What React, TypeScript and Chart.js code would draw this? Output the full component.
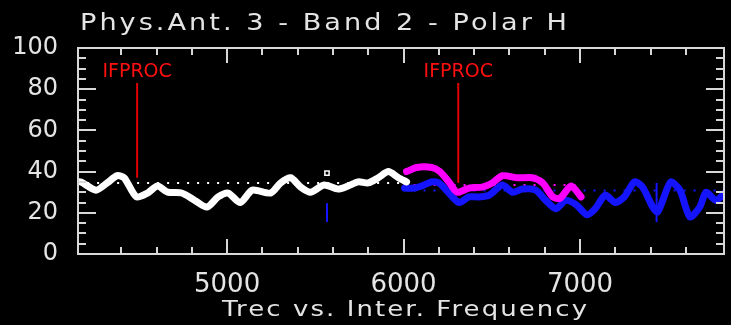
import React, { useEffect, useRef } from 'react';
import { Chart, registerables } from 'chart.js';

Chart.register(...registerables);

// ---- data ----
const whiteFreq = [4150, 4171, 4257, 4320, 4377, 4417, 4486, 4549, 4606, 4663, 4743, 4817, 4886, 4949, 5006, 5074, 5143, 5246, 5303, 5360, 5417, 5474, 5549, 5629, 5686, 5743, 5800, 5857, 5914, 5971, 6017];
const whiteTrec = [35, 35, 31, 34.5, 38, 37, 27.7, 29.6, 33, 30, 29.6, 26, 22.8, 27.7, 29.6, 25, 31, 29.6, 34.5, 37, 32.5, 30, 33.5, 31.5, 33, 35, 34.5, 37, 40, 37, 35];

const magentaFreq = [6017, 6074, 6160, 6206, 6257, 6303, 6371, 6446, 6503, 6560, 6646, 6731, 6789, 6846, 6886, 6950, 7006];
const magentaTrec = [40, 42, 42, 40, 35, 30, 32, 32.5, 34.5, 38, 37, 37, 34.5, 27.7, 27, 33, 27.7];

const blueFreq = [6006, 6063, 6103, 6160, 6200, 6257, 6314, 6371, 6429, 6486, 6560, 6617, 6674, 6749, 6806, 6863, 6920, 6977, 7040, 7086, 7143, 7200, 7251, 7309, 7354, 7411, 7440, 7469, 7514, 7566, 7623, 7680, 7714, 7771, 7820];
const blueTrec = [32, 32, 33, 35, 34.5, 29.6, 25, 27.7, 27.7, 28.6, 33.5, 30, 31.5, 31, 26, 22, 26, 24, 19, 22, 28.6, 25, 27.7, 35, 32.5, 23, 20.4, 26, 35, 31, 18, 23, 30, 26, 29.6];

const whiteMeanRange = [4150, 6030];
const whiteMean = 34.5;
const magentaMeanRange = [6000, 7000];
const magentaMean = 33.5;
const blueMeanRange = [6000, 7820];
const blueMean = 30.8;

const markerFreq = [4490, 6310];
const markerLabels = ['IFPROC', 'IFPROC'];
const markerLow = [37, 34.5];
const markerHigh = 83;
const markerLabelLevel = 86;

const blueTickFreq = [5566, 7434];
const blueTickLow = [15.5, 15.5];
const blueTickHigh = [24.7, 34.5];

const squareFreq = [5566];
const squareTrec = [39.3];

const xMin = 4155;
const xMax = 7816;
const xMinorStep = 200;
const xMajorStep = 1000;
const yMin = 0;
const yMax = 100;
const yMinorStep = 5;
const yMajorStep = 20;

const titleText = 'Phys.Ant. 3 - Band 2 - Polar H';
const xAxisTitle = 'Trec vs. Inter. Frequency';

// ---- helpers ----
const pts = (xs: number[], ys: number[]) => xs.map((x, i) => ({ x, y: ys[i] }));
const FONT = '"DejaVu Sans", sans-serif';
const FG = '#e4e4e4';

function drawWide(ctx: CanvasRenderingContext2D, text: string, x: number, y: number, size: number, width: number) {
  ctx.save();
  ctx.font = `${size}px ${FONT}`;
  ctx.fillStyle = FG;
  ctx.textAlign = 'left';
  ctx.textBaseline = 'alphabetic';
  (ctx as any).letterSpacing = '0px';
  const w = ctx.measureText(text).width;
  const sx = Math.min(width / w, 1.18);
  const extra = (width / sx - w) / Math.max(1, text.length - 1);
  (ctx as any).letterSpacing = `${extra}px`;
  ctx.translate(x, y);
  ctx.scale(sx, 1);
  ctx.fillText(text, 0, 0);
  ctx.restore();
}

const framePlugin = {
  id: 'idlFrame',
  beforeDraw(chart: any) {
    const { ctx, width, height } = chart;
    ctx.save();
    ctx.fillStyle = '#000';
    ctx.fillRect(0, 0, width, height);
    ctx.restore();
  },
  afterDraw(chart: any) {
    const { ctx, chartArea } = chart;
    const xs = chart.scales.x;
    const ys = chart.scales.y;
    const { left, right, top, bottom } = chartArea;
    ctx.save();
    ctx.strokeStyle = '#d8d8d8';
    ctx.lineWidth = 2;
    ctx.strokeRect(left, top, right - left, bottom - top);
    ctx.beginPath();
    xs.ticks.forEach((t: any) => {
      const v = t.value;
      if (Math.abs(v % xMinorStep) > 1e-6) return;
      const px = Math.round(xs.getPixelForValue(v));
      const len = Math.abs(v % xMajorStep) < 1e-6 ? 15 : 7;
      ctx.moveTo(px, bottom);
      ctx.lineTo(px, bottom - len);
      ctx.moveTo(px, top);
      ctx.lineTo(px, top + len);
    });
    ys.ticks.forEach((t: any) => {
      const v = t.value;
      if (Math.abs(v % yMinorStep) > 1e-6) return;
      const py = Math.round(ys.getPixelForValue(v));
      const len = Math.abs(v % yMajorStep) < 1e-6 ? 18 : 8;
      ctx.moveTo(left, py);
      ctx.lineTo(left + len, py);
      ctx.moveTo(right, py);
      ctx.lineTo(right - len, py);
    });
    ctx.stroke();
    ctx.restore();

    // marker labels
    ctx.save();
    ctx.font = `19px ${FONT}`;
    ctx.fillStyle = '#ff1010';
    ctx.textAlign = 'center';
    ctx.textBaseline = 'alphabetic';
    markerFreq.forEach((f, i) => {
      ctx.fillText(markerLabels[i], xs.getPixelForValue(f), ys.getPixelForValue(markerLabelLevel));
    });
    ctx.restore();

    drawWide(ctx, titleText, 80, 30, 23, 487);
    drawWide(ctx, xAxisTitle, 222, 316, 22, 365);
  },
};

export default function App() {
  const ref = useRef<HTMLCanvasElement | null>(null);

  useEffect(() => {
    if (!ref.current) return;
    const curve = (data: any[], color: string, order: number) => ({
      data,
      borderColor: color,
      backgroundColor: color,
      borderWidth: 7,
      pointRadius: 0,
      tension: 0.25,
      borderCapStyle: 'round',
      borderJoinStyle: 'round',
      order,
    });
    const dotted = (range: number[], level: number, color: string) => ({
      data: [{ x: range[0], y: level }, { x: range[1], y: level }],
      borderColor: color,
      borderWidth: 2,
      borderDash: [2, 8],
      pointRadius: 0,
      order: 9,
    });
    const vline = (x: number, lo: number, hi: number, color: string, w: number) => ({
      data: [{ x, y: lo }, { x, y: hi }],
      borderColor: color,
      borderWidth: w,
      pointRadius: 0,
      order: 1,
    });

    const datasets: any[] = [
      dotted(whiteMeanRange, whiteMean, '#ffffff'),
      dotted(magentaMeanRange, magentaMean, '#ff00ff'),
      dotted(blueMeanRange, blueMean, '#1414ff'),
      curve(pts(blueFreq, blueTrec), '#1414ff', 5),
      curve(pts(magentaFreq, magentaTrec), '#ff00ff', 4),
      curve(pts(whiteFreq, whiteTrec), '#ffffff', 3),
      ...markerFreq.map((f, i) => vline(f, markerLow[i], markerHigh, '#e00000', 2)),
      ...blueTickFreq.map((f, i) => vline(f, blueTickLow[i], blueTickHigh[i], '#1414ff', 2)),
      {
        data: pts(squareFreq, squareTrec),
        showLine: false,
        pointStyle: 'rect',
        pointRadius: 3,
        pointBorderColor: '#ffffff',
        pointBackgroundColor: 'rgba(0,0,0,0)',
        pointBorderWidth: 1.5,
        order: 1,
      },
    ];

    const chart = new Chart(ref.current, {
      type: 'line',
      data: { datasets },
      plugins: [framePlugin],
      options: {
        responsive: false,
        animation: false,
        events: [],
        layout: { padding: { top: 48, right: 7, left: 0, bottom: 0 } },
        plugins: { legend: { display: false }, tooltip: { enabled: false }, title: { display: false } },
        scales: {
          x: {
            type: 'linear',
            min: xMin,
            max: xMax,
            grid: { display: false, drawTicks: false },
            border: { display: false },
            ticks: {
              stepSize: xMinorStep,
              autoSkip: false,
              maxRotation: 0,
              color: FG,
              padding: 16,
              font: { family: FONT, size: 26 },
              callback: (v: any) => (Math.abs(Number(v) % xMajorStep) < 1e-6 ? String(v) : ''),
            },
            afterFit: (s: any) => { s.height = 71; s.paddingLeft = 0; s.paddingRight = 0; },
          },
          y: {
            type: 'linear',
            min: yMin,
            max: yMax,
            grid: { display: false, drawTicks: false },
            border: { display: false },
            ticks: {
              stepSize: yMinorStep,
              autoSkip: false,
              color: FG,
              padding: 20,
              font: { family: FONT, size: 24 },
              callback: (v: any) => (Math.abs(Number(v) % yMajorStep) < 1e-6 ? String(v) : ''),
            },
            afterFit: (s: any) => { s.width = 78; s.paddingTop = 0; s.paddingBottom = 0; },
          },
        },
      } as any,
    });
    return () => chart.destroy();
  }, []);

  return (
    <div style={{ position: 'absolute', left: 0, top: 0, width: 731, height: 325, background: '#000' }}>
      <canvas ref={ref} width={731} height={325} style={{ display: 'block', width: 731, height: 325 }} />
    </div>
  );
}
